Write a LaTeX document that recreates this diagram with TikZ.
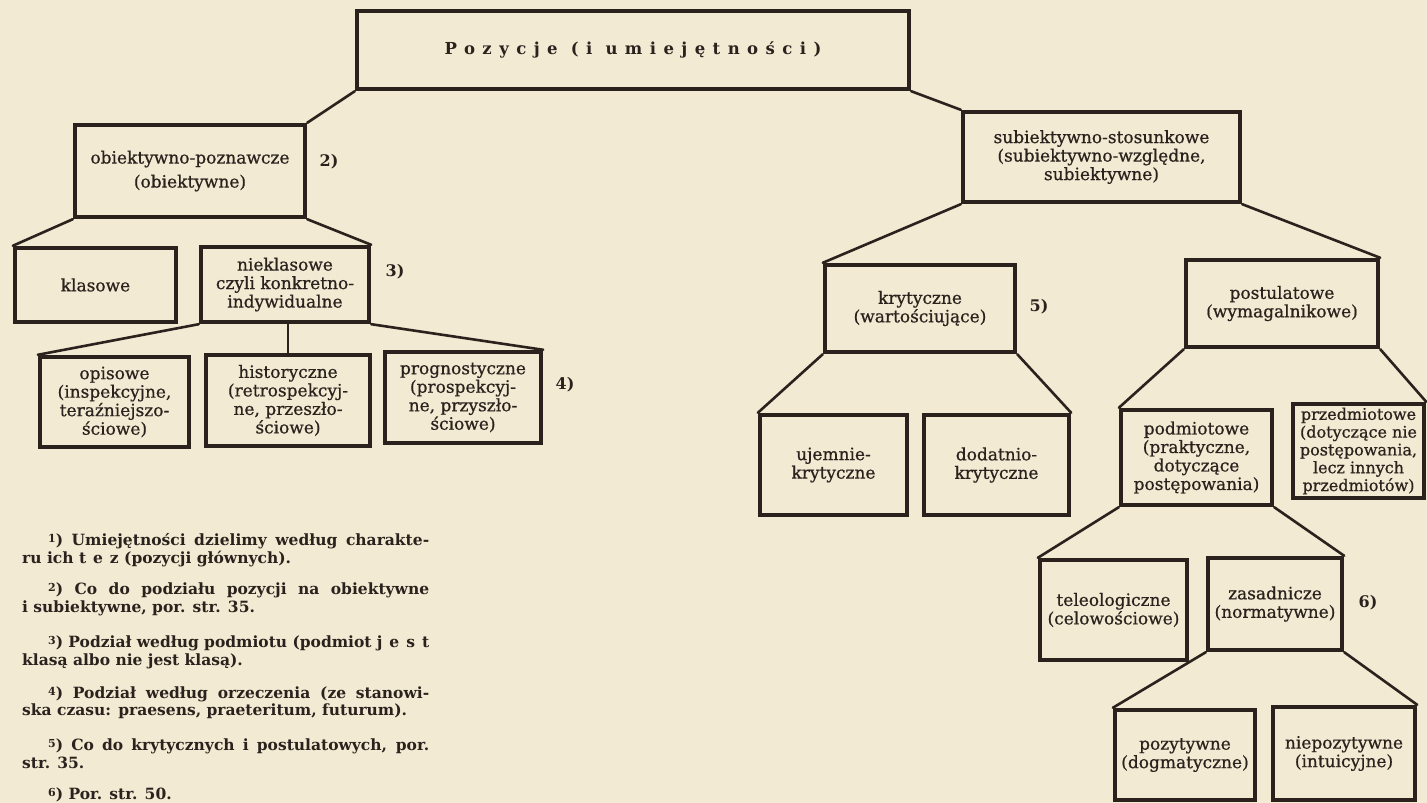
\documentclass[tikz,border=0pt]{standalone}
\usepackage{fontspec}
\setmainfont{DejaVu Serif}
\newfontfamily\boxfont[FakeBold=0.7]{DejaVu Serif}
\newfontfamily\topfont[LetterSpace=45]{DejaVu Serif}
\newfontfamily\lsfont[LetterSpace=45]{DejaVu Serif}
\definecolor{paper}{HTML}{F3EAD3}
\definecolor{ink}{HTML}{2B221E}
\newcommand{\fm}[1]{\raisebox{0.35ex}{\fontsize{11}{11}\selectfont #1})}
\tikzset{
  bx/.style={draw=ink, line width=4.4pt, rectangle, inner sep=0pt, align=center, text=ink,
             font=\boxfont\fontsize{17}{18.5}\selectfont},
  cn/.style={draw=ink, line width=2.6pt, line cap=round},
  lbl/.style={text=ink, font=\bfseries\fontsize{16}{17}\selectfont, inner sep=0pt},
  fn/.style={text=ink, font=\bfseries\fontsize{15.5}{18}\selectfont, inner sep=0pt, anchor=base west},
}
\begin{document}
\begin{tikzpicture}[x=1pt,y=-1pt]
\fill[paper] (0,0) rectangle (1427,803);
\useasboundingbox (0,0) rectangle (1427,803);

% boxes
\node[bx, minimum width=552pt, minimum height=78pt] (top) at (633,50)
  {\topfont\bfseries\fontsize{16.5}{18}\selectfont Pozycje (i umiejętności)};
\node[bx, minimum width=230pt, minimum height=92pt, font=\boxfont\fontsize{17}{24}\selectfont] (obj) at (190,171)
  {obiektywno-poznawcze\\(obiektywne)};
\node[bx, minimum width=161pt, minimum height=74pt] (kla) at (95.5,285) {klasowe};
\node[bx, minimum width=168pt, minimum height=75pt] (nie) at (285,284.5)
  {nieklasowe\\czyli konkretno-\\indywidualne};
\node[bx, minimum width=149pt, minimum height=90pt] (opi) at (114.5,402)
  {opisowe\\(inspekcyjne,\\teraźniejszo-\\ściowe)};
\node[bx, minimum width=164pt, minimum height=91pt] (his) at (288,400.5)
  {historyczne\\(retrospekcyj-\\ne, przeszło-\\ściowe)};
\node[bx, minimum width=156pt, minimum height=91pt] (pro) at (463,397.5)
  {prognostyczne\\(prospekcyj-\\ne, przyszło-\\ściowe)};

\node[bx, minimum width=277pt, minimum height=90pt] (sub) at (1101.5,157)
  {subiektywno-stosunkowe\\(subiektywno-względne,\\subiektywne)};
\node[bx, minimum width=190pt, minimum height=87pt] (kry) at (920,308.5)
  {krytyczne\\(wartościujące)};
\node[bx, minimum width=147pt, minimum height=100pt] (uje) at (833.5,465)
  {ujemnie-\\krytyczne};
\node[bx, minimum width=145pt, minimum height=100pt] (dod) at (996.5,465)
  {dodatnio-\\krytyczne};
\node[bx, minimum width=192pt, minimum height=87pt] (pos) at (1282,303.5)
  {postulatowe\\(wymagalnikowe)};
\node[bx, minimum width=151pt, minimum height=95pt] (pod) at (1196.5,457.5)
  {podmiotowe\\(praktyczne,\\dotyczące\\postępowania)};
\node[bx, minimum width=131pt, minimum height=94pt, font=\boxfont\fontsize{16}{17.8}\selectfont] (prz) at (1358.5,451)
  {przedmiotowe\\(dotyczące nie\\postępowania,\\lecz innych\\przedmiotów)};
\node[bx, minimum width=147pt, minimum height=100pt] (tel) at (1113.5,610)
  {teleologiczne\\(celowościowe)};
\node[bx, minimum width=134pt, minimum height=92pt] (zas) at (1275,604)
  {zasadnicze\\(normatywne)};
\node[bx, minimum width=140pt, minimum height=90pt] (poz) at (1185,755)
  {pozytywne\\(dogmatyczne)};
\node[bx, minimum width=142pt, minimum height=93pt] (nip) at (1344,753.5)
  {niepozytywne\\(intuicyjne)};

% connectors
\draw[cn] (top.south west) -- (obj.north east);
\draw[cn] (top.south east) -- (sub.north west);
\draw[cn] (obj.south west) -- (kla.north west);
\draw[cn] (obj.south east) -- (nie.north east);
\draw[cn] (nie.south west) -- (opi.north west);
\draw[cn] (his.north |- nie.south) -- (his.north);
\draw[cn] (nie.south east) -- (pro.north east);
\draw[cn] (sub.south west) -- (kry.north west);
\draw[cn] (sub.south east) -- (pos.north east);
\draw[cn] (kry.south west) -- (uje.north west);
\draw[cn] (kry.south east) -- (dod.north east);
\draw[cn] (pos.south west) -- (pod.north west);
\draw[cn] (pos.south east) -- (prz.north east);
\draw[cn] (pod.south west) -- (tel.north west);
\draw[cn] (pod.south east) -- (zas.north east);
\draw[cn] (zas.south west) -- (poz.north west);
\draw[cn] (zas.south east) -- (nip.north east);

% labels
\node[lbl] (l2) at (329,162) {2)};
\node[lbl] (l3) at (395,272) {3)};
\node[lbl] (l4) at (565,385) {4)};
\node[lbl] (l5) at (1039,307) {5)};
\node[lbl] (l6) at (1368,603) {6)};

% footnotes
\node[fn] (f1a) at (22,545) {\makebox[407pt][s]{\hspace*{26pt}\fm{1} Umiejętności dzielimy według charakte-}};
\node[fn] (f1b) at (22,563) {ru ich {\lsfont tez} (pozycji głównych).};
\node[fn] (f2a) at (22,594) {\makebox[407pt][s]{\hspace*{26pt}\fm{2} Co do podziału pozycji na obiektywne}};
\node[fn] (f2b) at (22,612) {i subiektywne, por. str. 35.};
\node[fn] (f3a) at (22,647) {\makebox[407pt][s]{\hspace*{26pt}\fm{3} Podział według podmiotu (podmiot {\lsfont jest}}};
\node[fn] (f3b) at (22,665) {klasą albo nie jest klasą).};
\node[fn] (f4a) at (22,698) {\makebox[407pt][s]{\hspace*{26pt}\fm{4} Podział według orzeczenia (ze stanowi-}};
\node[fn] (f4b) at (22,715) {ska czasu: praesens, praeteritum, futurum).};
\node[fn] (f5a) at (22,750) {\makebox[407pt][s]{\hspace*{26pt}\fm{5} Co do krytycznych i postulatowych, por.}};
\node[fn] (f5b) at (22,768) {str. 35.};
\node[fn] (f6) at (22,799) {\hspace*{26pt}\fm{6} Por. str. 50.};
\end{tikzpicture}
\end{document}
